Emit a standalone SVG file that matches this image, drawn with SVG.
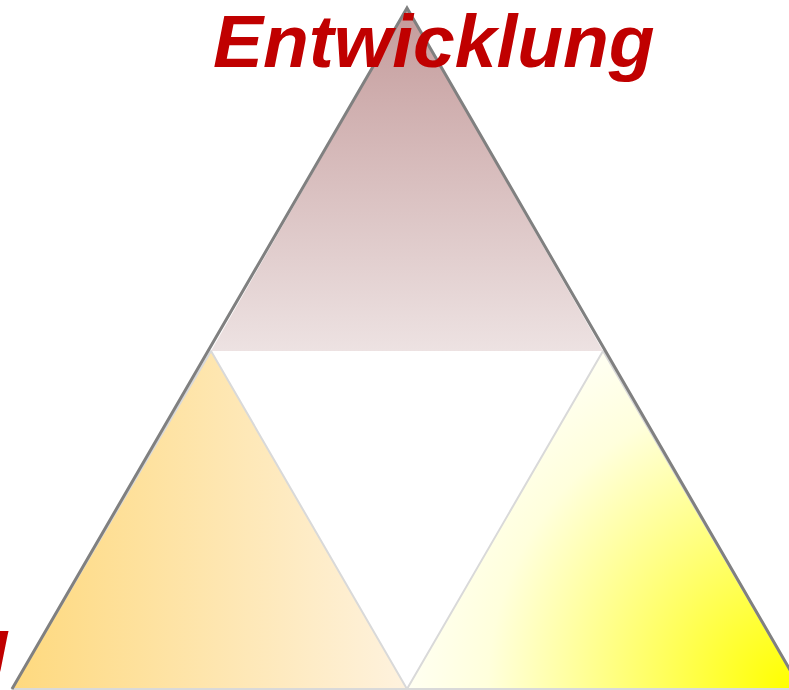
<svg xmlns="http://www.w3.org/2000/svg" width="789" height="690" viewBox="0 0 789 690">
<defs>
<linearGradient id="gTop" x1="0" y1="8" x2="0" y2="351" gradientUnits="userSpaceOnUse">
<stop offset="0" stop-color="#c49b9b"/>
<stop offset="1" stop-color="#ede2e2"/>
</linearGradient>
<linearGradient id="gLeft" x1="12" y1="0" x2="407" y2="0" gradientUnits="userSpaceOnUse">
<stop offset="0" stop-color="#fed97e"/>
<stop offset="1" stop-color="#fef2de"/>
</linearGradient>
<radialGradient id="gRight" cx="789" cy="689" r="430" gradientUnits="userSpaceOnUse">
<stop offset="0" stop-color="#ffff00"/>
<stop offset="0.35" stop-color="#ffff6e"/>
<stop offset="0.7" stop-color="#ffffdc"/>
<stop offset="1" stop-color="#ffffff"/>
</radialGradient>
<style>
.inner{stroke:#d9d9d9;stroke-width:2;stroke-linejoin:round}
.outer{fill:none;stroke:#808080;stroke-width:3}
.title{font-family:"Liberation Sans",Arial,sans-serif;font-weight:bold;font-style:italic;font-size:75px;fill:#c00000}
</style>
</defs>
<g id="triangle-top">
<polygon points="407,8 211,351 603,351" fill="url(#gTop)"/>
</g>
<g id="triangle-left">
<polygon class="inner" points="211,351 12,689 407,689" fill="url(#gLeft)"/>
</g>
<g id="triangle-right">
<polygon class="inner" points="603,351 407,689 801,689" fill="url(#gRight)"/>
</g>
<g id="connectors">
<polyline class="outer" points="12,689 407,8 801,689"/>
</g>
<g id="title">
<text class="title" x="213" y="67">Entwicklung</text>
</g>
<g id="label-left">
<text class="title" x="-36" y="670">g</text>
</g>
</svg>
